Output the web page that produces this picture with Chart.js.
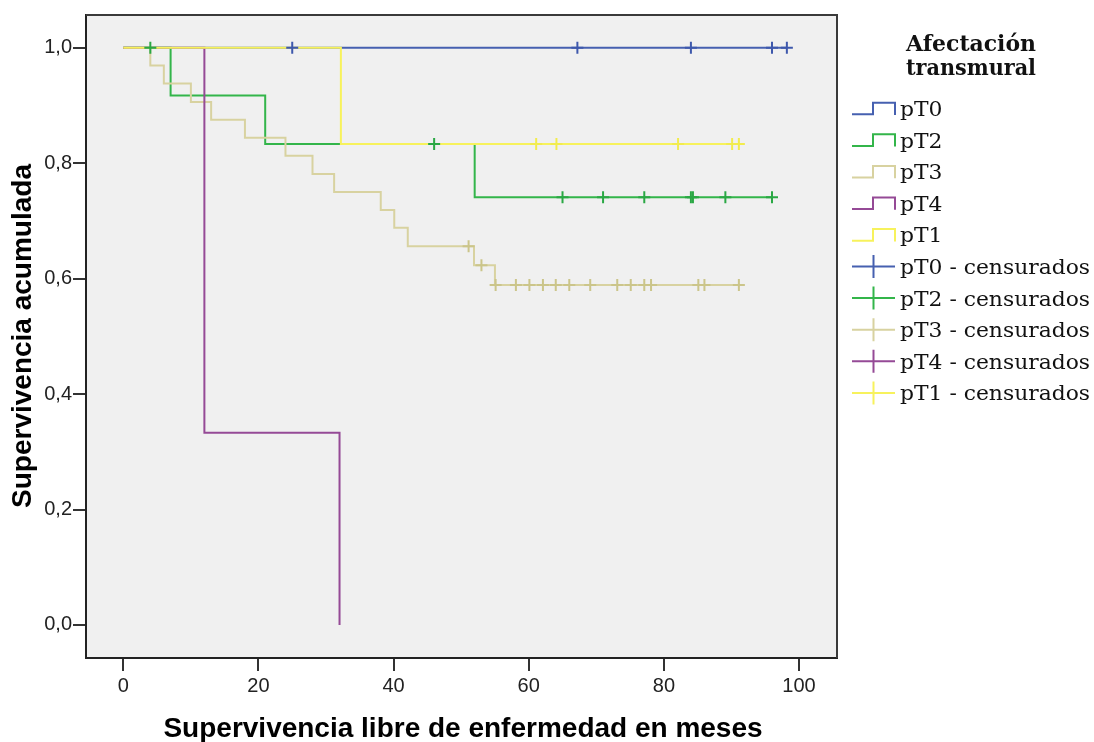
<!DOCTYPE html>
<html>
<head>
<meta charset="utf-8">
<script src="https://cdn.jsdelivr.net/npm/chart.js@4.4.1/dist/chart.umd.min.js"></script>
<style>
  html, body { margin: 0; padding: 0; background: #ffffff; }
  #wrap { position: relative; width: 1094px; height: 742px; }
  canvas { display: block; }
</style>
</head>
<body>
<div id="wrap"><canvas id="km" width="1094" height="742"></canvas></div>
<script>
// Kaplan–Meier: disease-free survival by transmural involvement
const groups = ['pT0', 'pT2', 'pT3', 'pT4', 'pT1'];
const legendTitle = ['Afectación', 'transmural'];
const censoredSuffix = ' - censurados';
const xTitle = 'Supervivencia libre de enfermedad en meses';
const yTitle = 'Supervivencia acumulada';
const xTicks = [0, 20, 40, 60, 80, 100];
const yTicks = [0, 0.2, 0.4, 0.6, 0.8, 1.0];

// step vertices: time (months) and cumulative survival
const pT0Time = [0, 98.2];
const pT0Surv = [1, 1];
const pT2Time = [0, 7, 21, 52, 96];
const pT2Surv = [1, 0.917, 0.833, 0.741, 0.741];
const pT3Time = [0, 4, 6, 10, 13, 18, 24, 28, 31.2, 38.1, 40.1, 42.1, 51.9, 55, 91.1];
const pT3Surv = [1, 0.969, 0.938, 0.906, 0.875, 0.844, 0.813, 0.781, 0.750, 0.719, 0.688, 0.656, 0.623, 0.589, 0.589];
const pT4Time = [0, 12, 32];
const pT4Surv = [1, 0.333, 0];
const pT1Time = [0, 32.2, 91.1];
const pT1Surv = [1, 0.833, 0.833];

// censored cases
const pT0CensTime = [25, 67.2, 84, 96, 98.2];
const pT0CensSurv = [1, 1, 1, 1, 1];
const pT2CensTime = [4, 46, 65, 71, 77.1, 84, 84.3, 89.1, 96];
const pT2CensSurv = [1, 0.833, 0.741, 0.741, 0.741, 0.741, 0.741, 0.741, 0.741];
const pT3CensTime = [51.1, 53, 55.1, 58.1, 60.1, 62.1, 64, 66, 69.1, 73.1, 75.1, 77.1, 78.1, 85.1, 86, 91.1];
const pT3CensSurv = [0.656, 0.623, 0.589, 0.589, 0.589, 0.589, 0.589, 0.589, 0.589, 0.589, 0.589, 0.589, 0.589, 0.589, 0.589, 0.589];
const pT4CensTime = [];
const pT4CensSurv = [];
const pT1CensTime = [61.1, 64.1, 82.1, 90.1, 91.1];
const pT1CensSurv = [0.833, 0.833, 0.833, 0.833, 0.833];

const lineColors = { pT0: '#4660b0', pT2: '#33b54a', pT3: '#d8d2a0', pT4: '#954a96', pT1: '#f7f25c' };
const crossColors = { pT0: '#3e58ac', pT2: '#2aa844', pT3: '#cbc58a', pT4: '#7c287d', pT1: '#f2ec4e' };

const curves = {
  pT0: [pT0Time, pT0Surv], pT2: [pT2Time, pT2Surv], pT3: [pT3Time, pT3Surv],
  pT4: [pT4Time, pT4Surv], pT1: [pT1Time, pT1Surv]
};
const censored = {
  pT0: [pT0CensTime, pT0CensSurv], pT2: [pT2CensTime, pT2CensSurv], pT3: [pT3CensTime, pT3CensSurv],
  pT4: [pT4CensTime, pT4CensSurv], pT1: [pT1CensTime, pT1CensSurv]
};
const toPoints = (t, s) => t.map((v, i) => ({ x: v, y: s[i] }));

// lower "order" is painted last (on top): crosses, then pT1, pT4, pT3, pT2, pT0
const lineOrder = { pT1: 1, pT4: 2, pT3: 3, pT2: 4, pT0: 5 };
const datasets = [];
groups.forEach(g => {
  datasets.push({
    label: g,
    data: toPoints(curves[g][0], curves[g][1]),
    showLine: true,
    stepped: 'before',
    borderColor: lineColors[g],
    borderWidth: 2,
    pointRadius: 0,
    fill: false,
    order: lineOrder[g]
  });
});
groups.forEach(g => {
  datasets.push({
    label: g + censoredSuffix,
    data: toPoints(censored[g][0], censored[g][1]),
    showLine: false,
    pointStyle: 'cross',
    pointRadius: 6,
    pointBorderWidth: 2,
    borderColor: crossColors[g],
    backgroundColor: crossColors[g],
    order: 0
  });
});

const frame = {
  id: 'frame',
  beforeDraw(chart) {
    const { ctx, chartArea: a } = chart;
    ctx.save();
    ctx.fillStyle = '#f0f0f0';
    ctx.fillRect(a.left, a.top, a.right - a.left, a.bottom - a.top);
    ctx.restore();
  },
  afterDraw(chart) {
    const { ctx, chartArea: a } = chart;
    ctx.save();
    ctx.strokeStyle = '#3a3a3a';
    ctx.lineWidth = 2;
    ctx.beginPath();
    ctx.moveTo(a.left, a.top);
    ctx.lineTo(a.right, a.top);
    ctx.lineTo(a.right, a.bottom);
    ctx.stroke();
    ctx.restore();
  }
};

const fittedText = (ctx, text, x, y, width) => {
  const w = ctx.measureText(text).width;
  ctx.save();
  ctx.translate(x, y);
  ctx.scale(width / w, 1);
  ctx.fillText(text, 0, 0);
  ctx.restore();
};

const titles = {
  id: 'titles',
  afterDraw(chart) {
    const ctx = chart.ctx;
    ctx.save();
    ctx.fillStyle = '#000000';
    ctx.font = 'bold 28px "Liberation Sans", Arial, sans-serif';
    ctx.textAlign = 'center';
    ctx.textBaseline = 'alphabetic';
    ctx.fillText(xTitle, 463, 737);
    ctx.translate(30.5, 336);
    ctx.rotate(-Math.PI / 2);
    ctx.fillText(yTitle, 0, 0);
    ctx.restore();
  }
};

const legend = {
  id: 'kmLegend',
  afterDraw(chart) {
    const ctx = chart.ctx;
    ctx.save();
    ctx.fillStyle = '#111111';
    ctx.textBaseline = 'alphabetic';
    ctx.textAlign = 'left';
    ctx.font = 'bold 22px "DejaVu Serif", serif';
    legendTitle.forEach((t, i) => {
      const w = ctx.measureText(t).width;
      ctx.save();
      ctx.translate(971, [51, 75][i]);
      ctx.scale(130 / w, 1);
      ctx.fillText(t, -w / 2, 0);
      ctx.restore();
    });
    const entries = groups.map(g => ({ g, text: g, kind: 'step' }))
      .concat(groups.map(g => ({ g, text: g + censoredSuffix, kind: 'cross' })));
    ctx.font = '21px "DejaVu Serif", serif';
    const ref = ctx.measureText(groups[0] + censoredSuffix).width;
    const sx = 190 / ref;
    entries.forEach((e, i) => {
      const yb = 116 + i * 31.6;
      ctx.strokeStyle = lineColors[e.g];
      ctx.lineWidth = 2;
      ctx.beginPath();
      if (e.kind === 'step') {
        ctx.moveTo(852, yb - 1.7);
        ctx.lineTo(873, yb - 1.7);
        ctx.lineTo(873, yb - 13.3);
        ctx.lineTo(895, yb - 13.3);
        ctx.lineTo(895, yb - 1);
      } else {
        ctx.moveTo(852, yb - 7.5);
        ctx.lineTo(895, yb - 7.5);
        ctx.moveTo(873.5, yb - 19);
        ctx.lineTo(873.5, yb + 4);
      }
      ctx.stroke();
      ctx.save();
      ctx.translate(900, yb);
      ctx.scale(sx, 1);
      ctx.fillText(e.text, 0, 0);
      ctx.restore();
    });
    ctx.restore();
  }
};

const fmt = v => v.toFixed(1).replace('.', ',');

new Chart(document.getElementById('km'), {
  type: 'scatter',
  data: { datasets },
  options: {
    responsive: false,
    animation: false,
    events: [],
    layout: { padding: { left: 0, top: 15, right: 257, bottom: 0 } },
    plugins: { legend: { display: false }, tooltip: { enabled: false } },
    scales: {
      x: {
        type: 'linear',
        min: -5.52,
        max: 105.62,
        afterBuildTicks: s => { s.ticks = xTicks.map(v => ({ value: v })); },
        afterFit: s => { s.height = 84; },
        grid: { drawOnChartArea: false, drawTicks: true, tickLength: 13, color: '#333333', lineWidth: 2 },
        border: { display: true, color: '#222222', width: 2 },
        ticks: {
          color: '#222222',
          padding: 3,
          maxRotation: 0,
          autoSkip: false,
          font: { family: '"Liberation Sans", Arial, sans-serif', size: 20 },
          callback: v => String(v)
        }
      },
      y: {
        type: 'linear',
        min: -0.0572,
        max: 1.0566,
        afterBuildTicks: s => { s.ticks = yTicks.map(v => ({ value: v })); },
        afterFit: s => { s.width = 86; },
        grid: { drawOnChartArea: false, drawTicks: true, tickLength: 13, color: '#333333', lineWidth: 2 },
        border: { display: true, color: '#222222', width: 2 },
        ticks: {
          color: '#222222',
          padding: 1,
          autoSkip: false,
          font: { family: '"Liberation Sans", Arial, sans-serif', size: 20 },
          callback: v => fmt(v)
        }
      }
    }
  },
  plugins: [frame, titles, legend]
});
</script>
</body>
</html>
